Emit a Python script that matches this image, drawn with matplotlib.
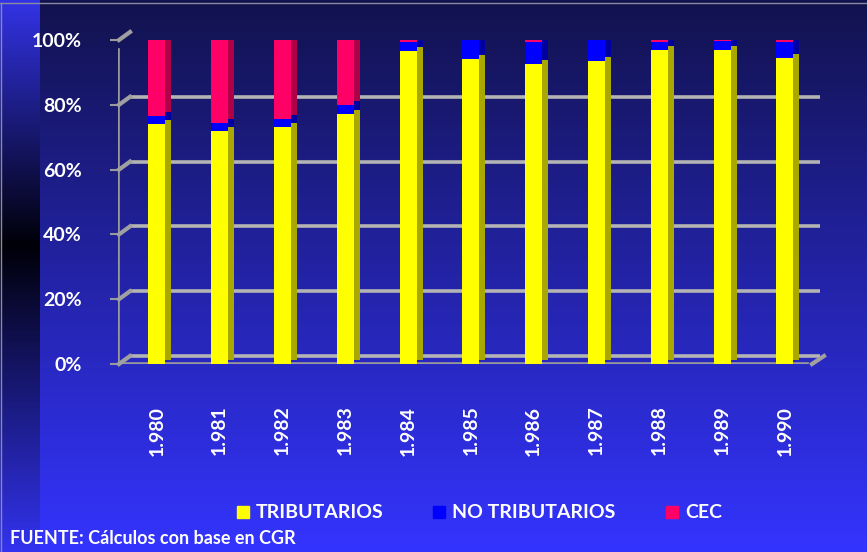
import numpy as np
import matplotlib
matplotlib.use("Agg")
import matplotlib.pyplot as plt
from matplotlib.transforms import ScaledTranslation
from matplotlib.patches import Rectangle
from matplotlib.lines import Line2D
from matplotlib.colors import to_rgb

plt.rcParams["font.family"] = ["Lato", "DejaVu Sans"]

# data (share of total, %)
years = ["1.980", "1.981", "1.982", "1.983", "1.984", "1.985",
         "1.986", "1.987", "1.988", "1.989", "1.990"]
tributarios = [74, 72, 73, 77.3, 96.5, 94, 92.5, 93.5, 97, 97, 94.5]
no_tributarios = [2.5, 2.5, 2.7, 2.7, 2.8, 6, 7, 6.5, 2.5, 2.7, 5]
cec = [23.5, 25.5, 24.3, 20, 0.7, 0, 0.5, 0, 0.5, 0.3, 0.5]
series = [("TRIBUTARIOS", tributarios, "#ffff00", "#a8a800"),
          ("NO TRIBUTARIOS", no_tributarios, "#0000ff", "#0000a0"),
          ("CEC", cec, "#ff0066", "#b00048")]
yticks = [0, 20, 40, 60, 80, 100]

W, H = 867, 552
fig = plt.figure(figsize=(W / 100, H / 100), dpi=100)

# --- background gradient ---
bg = fig.add_axes([0, 0, 1, 1], zorder=-10)
bg.set_axis_off()
ys = np.arange(H)
top, bot = np.array(to_rgb("#12124e")), np.array(to_rgb("#3434ff"))
t = (ys / (H - 1))[:, None]
main = top * (1 - t) + bot * t
s_top, s_mid, s_bot = np.array(to_rgb("#3333e6")), np.array(to_rgb("#000008")), np.array(to_rgb("#3333f0"))
strip = np.where(ys[:, None] < 245,
                 s_top + (s_mid - s_top) * (ys[:, None] / 245),
                 s_mid + (s_bot - s_mid) * ((ys[:, None] - 245) / (H - 245)))
img = np.repeat(main[:, None, :], W, axis=1)
img[:, :40, :] = strip[:, None, :]
bg.imshow(img, aspect="auto", extent=[0, W, H, 0])
bg.set_xlim(0, W)
bg.set_ylim(H, 0)
bg.plot([0, W], [3, 3], color="#8a8aa0", lw=1)
bg.plot([1, 1], [3, H], color="#8a8aa0", lw=1)

# --- plot area (front plane) ---
x0, x1 = 118, 820
yb, yt = 364, 40
ax = fig.add_axes([x0 / W, (H - yb) / H, (x1 - x0) / W, (yb - yt) / H])
ax.patch.set_alpha(0)
n = len(years)
x = np.arange(n)
ax.set_xlim(-0.62, n - 1 + 0.56)
ax.set_ylim(0, 100)
for sp in ax.spines.values():
    sp.set_visible(False)

dx_px, dy_px = 12, 8
back = ax.transData + ScaledTranslation(dx_px / 100, dy_px / 100, fig.dpi_scale_trans)
grid_c = "#b4b4b4"
xl, xr = ax.get_xlim()
for v in yticks:
    ax.plot([xl, xr], [v, v], color=grid_c, lw=2.6, transform=back, zorder=1,
            solid_capstyle="butt")
    # diagonal stub on the left wall
    ax.plot([xl, xl], [v, v], color=grid_c, lw=1, zorder=1)
ax.plot([xl, xl], [0, 97], color="#9a9a9a", lw=2.6, zorder=1)
ax.plot([xl, xr - 0.2], [0, 0], color="#9a9a9a", lw=2.6, zorder=1)

# bars: dark shifted copy for depth, then the front face
bw = 0.27
sh = ax.transData + ScaledTranslation(6 / 100, 4 / 100, fig.dpi_scale_trans)
bottom = np.zeros(n)
for name, vals, c, dc in series:
    vals = np.array(vals, dtype=float)
    ax.bar(x, vals, bw, bottom=bottom, color=dc, transform=sh, zorder=2, linewidth=0)
    ax.bar(x, vals, bw, bottom=bottom, color=c, zorder=3, linewidth=0, label=name)
    bottom += vals

ax.set_yticks(yticks)
ax.set_yticklabels([f"{v}%" for v in yticks])
ax.set_xticks(x)
ax.set_xticklabels(years, rotation=90, va="top")
ax.tick_params(axis="y", length=6, color="#9a9a9a", width=1.5, pad=20,
               labelsize=14, labelcolor="white")
ax.tick_params(axis="x", length=0, pad=30, labelsize=14, labelcolor="white")
for lab in ax.get_xticklabels() + ax.get_yticklabels():
    lab.set_fontweight("bold")

# left wall diagonal stubs
for v in yticks:
    y_px = yb - (yb - yt) * v / 100
    fig.add_artist(Line2D([(x0 + 1) / W, (x0 + dx_px) / W],
                          [(H - y_px) / H, (H - y_px + dy_px) / H],
                          color="#a0a0a0", lw=3))
# right floor corner
fig.add_artist(Line2D([(x1 - 8) / W, (x1 + 4) / W],
                      [(H - yb) / H, (H - yb + dy_px) / H], color="#a0a0a0", lw=3))

# --- legend ---
leg = [(237, "TRIBUTARIOS", "#ffff00"), (433, "NO TRIBUTARIOS", "#0000ff"),
       (666, "CEC", "#ff0066")]
for lx, name, c in leg:
    fig.add_artist(Rectangle((lx / W, (H - 518) / H), 12 / W, 12 / H, color=c,
                             transform=fig.transFigure))
    fig.text((lx + 19) / W, (H - 512) / H, name, color="white", fontsize=14,
             fontweight="bold", va="center", ha="left")

fig.text(10 / W, (H - 538) / H, "FUENTE: Cálculos con base en CGR", color="white",
         fontsize=13, fontweight="bold", va="center", ha="left")

fig.savefig("out.png", dpi=100)
